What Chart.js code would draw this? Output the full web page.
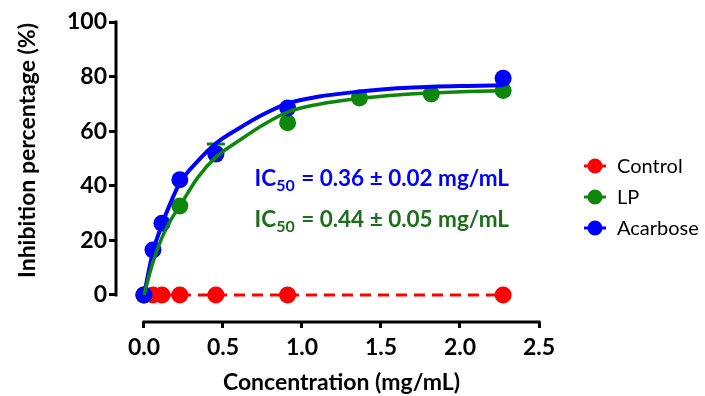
<!DOCTYPE html>
<html>
<head>
<meta charset="utf-8">
<script src="https://cdn.jsdelivr.net/npm/chart.js@4.4.1/dist/chart.umd.min.js"></script>
<style>
  html, body { margin: 0; padding: 0; background: #fff; }
  #wrap { width: 705px; height: 396px; position: relative; }
</style>
</head>
<body>
<div id="wrap"><canvas id="c" width="705" height="396"></canvas></div>
<script>
// ---- Data ----
const xTickValues = [0, 0.5, 1.0, 1.5, 2.0, 2.5];
const yTickValues = [0, 20, 40, 60, 80, 100];

const controlX = [0, 0.057, 0.114, 0.227, 0.455, 0.909, 2.273];
const controlValues = [0, 0, 0, 0, 0, 0, 0];

const lpX = [0, 0.227, 0.455, 0.909, 1.364, 1.818, 2.273];
const lpValues = [0, 32.6, 51.8, 63.1, 72.2, 73.6, 74.9];
const lpErrors = [0, 0, 3.5, 0, 0, 0, 0];

const acarboseX = [0, 0.057, 0.114, 0.227, 0.455, 0.909, 2.273];
const acarboseValues = [0, 16.5, 26.3, 42.2, 51.6, 68.5, 79.4];

// fitted curves
const fitX = [0, 0.057, 0.114, 0.17, 0.227, 0.34, 0.455, 0.6, 0.75, 0.909, 1.1, 1.364, 1.6, 1.818, 2.05, 2.273];
const lpFit = [0, 12, 21, 27.5, 32.6, 43, 50.5, 56.5, 62.2, 67, 69.8, 72, 73.3, 74, 74.5, 74.8];
const acarboseFit = [0, 15.8, 25.8, 34, 41, 49, 55.5, 61, 66, 70.2, 72.6, 74.5, 75.7, 76.3, 76.6, 76.8];

const seriesNames = ['Control', 'LP', 'Acarbose'];
const ic50Text = ['0.36 \u00B1 0.02 mg/mL', '0.44 \u00B1 0.05 mg/mL'];
const ic50AnchorX = [0.7, 0.7];
const ic50AnchorY = [40, 25];

const RED = '#FF0000', GREEN = '#0C870C', BLUE = '#0000FF';
const GREEN_TEXT = '#1C6E1C';
const FONT = 'Lato, "Open Sans", sans-serif';

const pts = (xs, ys) => xs.map((x, i) => ({ x: x, y: ys[i] }));

// ---- plugins ----
const axisLines = {
  id: 'axisLines',
  afterDatasetsDraw(chart) {
    const ctx = chart.ctx, xs = chart.scales.x, ys = chart.scales.y, a = chart.chartArea;
    ctx.save();
    ctx.strokeStyle = '#000';
    ctx.lineWidth = 3;
    ctx.lineCap = 'butt';
    const y0 = ys.getPixelForValue(yTickValues[0]), y1 = ys.getPixelForValue(yTickValues[yTickValues.length - 1]);
    ctx.beginPath();
    ctx.moveTo(a.left, y0 + 1.5);
    ctx.lineTo(a.left, y1 - 1.5);
    ctx.stroke();
    const x0 = xs.getPixelForValue(xTickValues[0]), x1 = xs.getPixelForValue(xTickValues[xTickValues.length - 1]);
    ctx.beginPath();
    ctx.moveTo(x0 - 1.5, a.bottom);
    ctx.lineTo(x1 + 1.5, a.bottom);
    ctx.stroke();
    ctx.restore();
  }
};

const errorBars = {
  id: 'errorBars',
  beforeDatasetsDraw(chart) {
    const ctx = chart.ctx, xs = chart.scales.x, ys = chart.scales.y;
    ctx.save();
    ctx.strokeStyle = GREEN;
    ctx.lineWidth = 3;
    lpErrors.forEach((e, i) => {
      if (!e) return;
      const px = xs.getPixelForValue(lpX[i]);
      const py = ys.getPixelForValue(lpValues[i]);
      const pt = ys.getPixelForValue(lpValues[i] + e);
      ctx.beginPath();
      ctx.moveTo(px, py); ctx.lineTo(px, pt);
      ctx.moveTo(px - 9, pt); ctx.lineTo(px + 9, pt);
      ctx.stroke();
    });
    ctx.restore();
  }
};

const textLayer = {
  id: 'textLayer',
  afterDraw(chart) {
    const ctx = chart.ctx, xs = chart.scales.x, ys = chart.scales.y, a = chart.chartArea;
    ctx.save();
    // axis titles
    ctx.fillStyle = '#000';
    ctx.font = 'bold 23px ' + FONT;
    ctx.textAlign = 'center';
    ctx.textBaseline = 'middle';
    const xc = (xs.getPixelForValue(xTickValues[0]) + xs.getPixelForValue(xTickValues[xTickValues.length - 1])) / 2;
    ctx.fillText('Concentration (mg/mL)', xc, 383);
    const yc = (ys.getPixelForValue(yTickValues[0]) + ys.getPixelForValue(yTickValues[yTickValues.length - 1])) / 2 - 8;
    ctx.translate(28, yc);
    ctx.rotate(-Math.PI / 2);
    ctx.fillText('Inhibition percentage (%)', 0, 0);
    ctx.setTransform(1, 0, 0, 1, 0, 0);

    // IC50 annotations
    const colors = [BLUE, GREEN_TEXT];
    ctx.textAlign = 'left';
    ctx.textBaseline = 'alphabetic';
    ic50Text.forEach((t, i) => {
      let x = xs.getPixelForValue(ic50AnchorX[i]);
      const y = ys.getPixelForValue(ic50AnchorY[i]);
      ctx.fillStyle = colors[i];
      ctx.font = 'bold 22.5px ' + FONT;
      ctx.fillText('IC', x, y);
      x += ctx.measureText('IC').width;
      ctx.font = 'bold 16px ' + FONT;
      ctx.fillText('50', x, y + 5);
      x += ctx.measureText('50').width + 1;
      ctx.font = 'bold 22.5px ' + FONT;
      ctx.fillText(' = ' + t, x, y);
    });

    // legend
    const legendDs = chart.data.datasets.filter(d => d.inLegend);
    const cx = a.right + 56;
    ctx.font = '20px ' + FONT;
    ctx.textBaseline = 'middle';
    legendDs.forEach((d, i) => {
      const cy = 166 + i * 31;
      ctx.strokeStyle = d.borderColor;
      ctx.fillStyle = d.pointBackgroundColor;
      ctx.lineWidth = 3;
      ctx.beginPath();
      ctx.moveTo(cx - 11, cy); ctx.lineTo(cx + 11, cy);
      ctx.stroke();
      ctx.beginPath();
      ctx.arc(cx, cy, 7.5, 0, Math.PI * 2);
      ctx.fill();
      ctx.fillStyle = '#000';
      ctx.fillText(d.label, cx + 22, cy + 1);
    });
    ctx.restore();
  }
};

const tickFont = { family: FONT, size: 23, weight: 'bold' };

new Chart(document.getElementById('c'), {
  type: 'scatter',
  data: {
    datasets: [
      { label: seriesNames[0], inLegend: true, data: pts(controlX, controlValues), showLine: true,
        borderColor: RED, borderWidth: 3, borderDash: [11, 7], pointBackgroundColor: RED,
        pointBorderColor: RED, pointRadius: 8.5, pointBorderWidth: 0, order: 5 },
      { label: seriesNames[1], inLegend: true, data: pts(lpX, lpValues), showLine: false,
        borderColor: GREEN, pointBackgroundColor: GREEN, pointBorderColor: GREEN,
        pointRadius: 8.5, pointBorderWidth: 0, order: 4 },
      { label: seriesNames[2], inLegend: true, data: pts(acarboseX, acarboseValues), showLine: false,
        borderColor: BLUE, pointBackgroundColor: BLUE, pointBorderColor: BLUE,
        pointRadius: 8.5, pointBorderWidth: 0, order: 3 },
      { label: 'Acarbose fit', data: pts(fitX, acarboseFit), showLine: true, borderColor: BLUE,
        borderWidth: 4, pointRadius: 0, cubicInterpolationMode: 'monotone', order: 2 },
      { label: 'LP fit', data: pts(fitX, lpFit), showLine: true, borderColor: GREEN,
        borderWidth: 3.5, pointRadius: 0, cubicInterpolationMode: 'monotone', order: 1 }
    ]
  },
  options: {
    responsive: false,
    animation: false,
    layout: { padding: { left: 0, right: 166, top: 22, bottom: 0 } },
    plugins: { legend: { display: false }, tooltip: { enabled: false } },
    elements: { line: { tension: 0 } },
    scales: {
      x: {
        type: 'linear', min: -0.177, max: 2.5,
        afterBuildTicks: s => { s.ticks = xTickValues.map(v => ({ value: v })); },
        afterFit: s => { s.height = 74; },
        ticks: { font: tickFont, color: '#000', padding: 6, maxRotation: 0, autoSkip: false,
          callback: v => Number(v).toFixed(1) },
        grid: { drawOnChartArea: false, drawTicks: true, tickLength: 6, lineWidth: 3, color: '#000' },
        border: { display: false }
      },
      y: {
        type: 'linear', min: -9.9, max: 100,
        afterBuildTicks: s => { s.ticks = yTickValues.map(v => ({ value: v })); },
        afterFit: s => { s.width = 116; },
        ticks: { font: tickFont, color: '#000', padding: 2, autoSkip: false },
        grid: { drawOnChartArea: false, drawTicks: true, tickLength: 7, lineWidth: 3, color: '#000' },
        border: { display: false }
      }
    }
  },
  plugins: [errorBars, axisLines, textLayer]
});
</script>
</body>
</html>
